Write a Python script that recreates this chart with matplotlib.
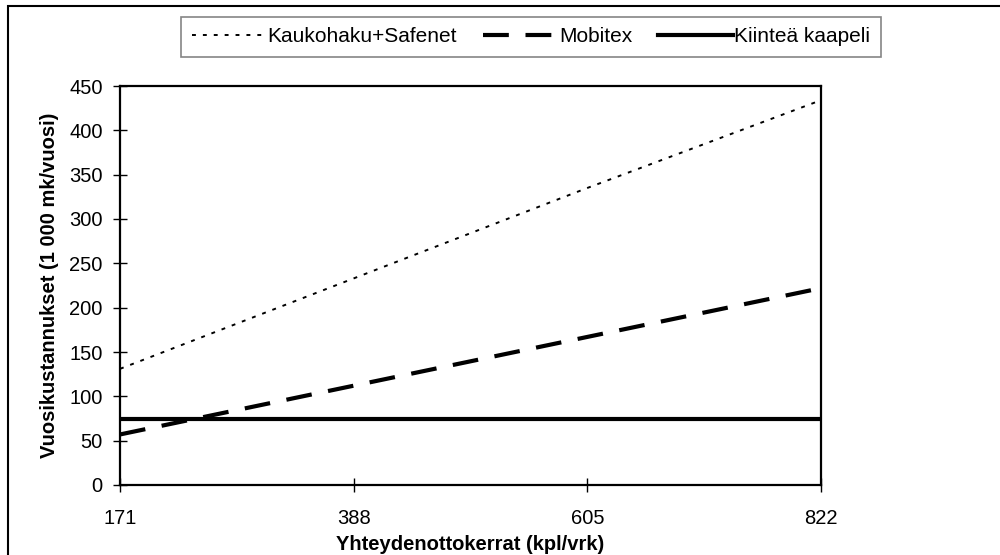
import matplotlib
matplotlib.use("Agg")
import matplotlib.pyplot as plt
from matplotlib.patches import Rectangle

categories = ["171", "388", "605", "822"]
kaukohaku = [131, 233, 335, 434]
mobitex = [57, 112, 167, 222]
kiintea = [75, 75, 75, 75]
yticks = [0, 50, 100, 150, 200, 250, 300, 350, 400, 450]

plt.rcParams['font.family'] = ['Liberation Sans', 'DejaVu Sans']

fig = plt.figure(figsize=(10, 5.55), dpi=100)
ax = fig.add_axes([0.120, 1 - 485 / 555, 0.701, (485 - 86) / 555])

x = list(range(len(categories)))
ax.plot(x, kaukohaku, color='black', lw=1.4, linestyle=(0, (2.0, 3.6)), label='Kaukohaku+Safenet')
ax.plot(x, mobitex, color='black', lw=3.0, linestyle=(0, (6.2, 4.0)), label='Mobitex')
ax.plot(x, kiintea, color='black', lw=3.0, linestyle='-', label='Kiinteä kaapeli')

ax.set_xlim(0, len(categories) - 1)
ax.set_ylim(0, 450)
ax.set_xticks(x)
ax.set_xticklabels(categories)
ax.set_yticks(yticks)
ax.tick_params(axis='both', direction='inout', length=10, width=1, labelsize=14.5, colors='black')
ax.tick_params(axis='x', pad=12)
ax.tick_params(axis='y', pad=7.5)
for s in ax.spines.values():
    s.set_linewidth(1.6)
    s.set_color('black')

ax.set_xlabel('Yhteydenottokerrat (kpl/vrk)', fontsize=14.5, fontweight='bold', labelpad=5)
ax.set_ylabel('Vuosikustannukset (1 000 mk/vuosi)', fontsize=14.5, fontweight='bold', labelpad=7.5)

leg = fig.legend(loc='center', bbox_to_anchor=(0.531, 1 - 37 / 555), ncol=3, frameon=True,
                 fontsize=15, handlelength=3.6, handletextpad=0.05, columnspacing=1.25,
                 borderpad=0.5, fancybox=False, edgecolor='#666666')
leg.get_frame().set_linewidth(1.2)

fig.add_artist(Rectangle((8 / 1000, -0.05), 1.1, 1 - 6 / 555 + 0.05, transform=fig.transFigure,
                         fill=False, edgecolor='black', lw=1.5))

fig.savefig('out.png', dpi=100)
